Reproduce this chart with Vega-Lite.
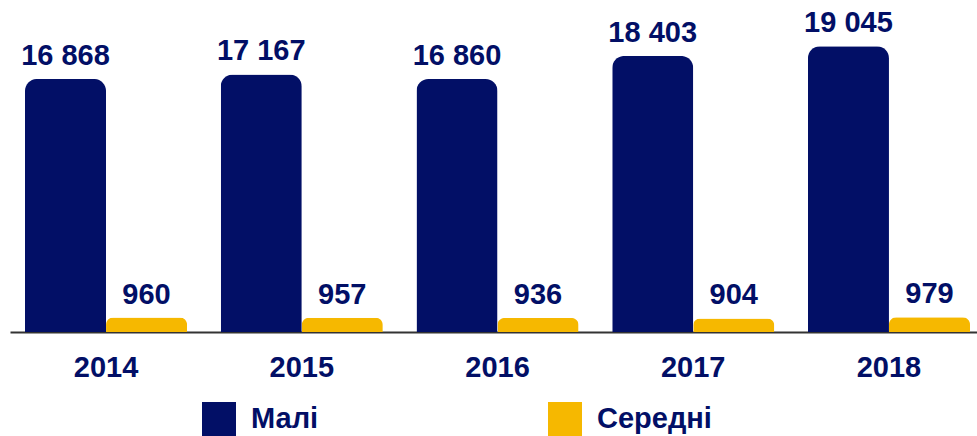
{
  "$schema": "https://vega.github.io/schema/vega-lite/v6.json",
  "width": 977,
  "height": 300,
  "autosize": {"type": "none"},
  "padding": {"left": 0, "top": 32, "right": 0, "bottom": 104},
  "background": "white",
  "config": {
    "view": {"stroke": null},
    "locale": {"number": {"decimal": ".", "thousands": " ", "grouping": [3], "currency": ["", ""]}},
    "font": "Liberation Sans"
  },
  "data": {
    "values": [
      {"year": "2014", "type": "Малі", "value": 16868},
      {"year": "2014", "type": "Середні", "value": 960},
      {"year": "2015", "type": "Малі", "value": 17167},
      {"year": "2015", "type": "Середні", "value": 957},
      {"year": "2016", "type": "Малі", "value": 16860},
      {"year": "2016", "type": "Середні", "value": 936},
      {"year": "2017", "type": "Малі", "value": 18403},
      {"year": "2017", "type": "Середні", "value": 904},
      {"year": "2018", "type": "Малі", "value": 19045},
      {"year": "2018", "type": "Середні", "value": 979}
    ]
  },
  "encoding": {
    "x": {
      "field": "year", "type": "nominal",
      "scale": {"range": [10, 985], "paddingInner": 0.172, "paddingOuter": 0.0766},
      "axis": {
        "title": null, "labelAngle": 0, "ticks": false, "labelPadding": 21,
        "labelFont": "Liberation Sans", "labelFontSize": 29, "labelFontWeight": "bold",
        "labelColor": "#020f66", "domainColor": "#333333", "domainWidth": 2
      }
    },
    "xOffset": {"field": "type", "type": "nominal", "sort": ["Малі", "Середні"], "scale": {"paddingInner": 0, "paddingOuter": 0}},
    "y": {"field": "value", "type": "quantitative", "scale": {"domain": [0, 20000]}, "axis": null}
  },
  "layer": [
    {
      "mark": {"type": "bar", "cornerRadiusTopLeft": 12, "cornerRadiusTopRight": 12},
      "encoding": {
        "color": {
          "field": "type", "type": "nominal",
          "scale": {"domain": ["Малі", "Середні"], "range": ["#020f66", "#f6b800"]},
          "legend": {
            "title": null, "orient": "none", "direction": "horizontal",
            "legendX": 202, "legendY": 370, "padding": 0,
            "symbolType": "square", "symbolSize": 1156, "symbolStrokeWidth": 0,
            "labelFont": "Liberation Sans", "labelFontSize": 29, "labelFontWeight": "bold",
            "labelColor": "#020f66", "labelOffset": 15, "columnPadding": 229,
            "labelLimit": 400
          }
        }
      }
    },
    {
      "mark": {"type": "text", "baseline": "alphabetic", "dy": -14, "font": "Liberation Sans", "fontSize": 29, "fontWeight": "bold", "color": "#020f66"},
      "encoding": {
        "text": {"field": "value", "type": "quantitative", "format": ",d"}
      }
    }
  ]
}
